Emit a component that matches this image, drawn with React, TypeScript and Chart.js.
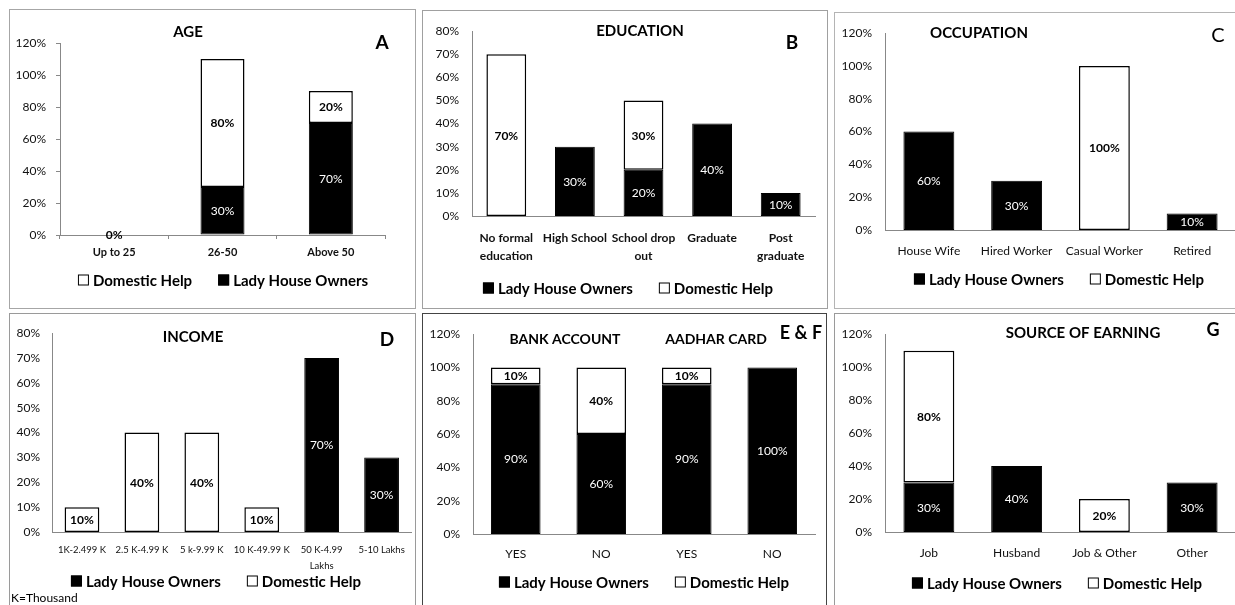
import React, { useEffect, useRef } from 'react';
import { Chart, registerables } from 'chart.js';

Chart.register(...registerables);

const FONT = 'Lato, "Open Sans", "Liberation Sans", sans-serif';

// ---------- Data ----------
// A – Age
const ageCategories = ['Up to 25', '26-50', 'Above 50'];
const ageLadyOwners = [null, 30, 70];
const ageDomesticHelp = [0, 80, 20];

// B – Education
const eduCategories = [['No formal', 'education'], 'High School', ['School drop', 'out'], 'Graduate', ['Post', 'graduate']];
const eduLadyOwners = [null, 30, 20, 40, 10];
const eduDomesticHelp = [70, null, 30, null, null];

// C – Occupation
const occCategories = ['House Wife', 'Hired Worker', 'Casual Worker', 'Retired'];
const occLadyOwners = [60, 30, null, 10];
const occDomesticHelp = [null, null, 100, null];

// D – Income
const incCategories = ['1K-2.499 K', '2.5 K-4.99 K', '5 k-9.99 K', '10 K-49.99 K', ['50 K-4.99', 'Lakhs'], '5-10 Lakhs'];
const incLadyOwners = [null, null, null, null, 70, 30];
const incDomesticHelp = [10, 40, 40, 10, null, null];

// E & F – Bank account / Aadhar card
const docCategories = ['YES', 'NO', 'YES', 'NO'];
const docLadyOwners = [90, 60, 90, 100];
const docDomesticHelp = [10, 40, 10, null];

// G – Source of earning
const srcCategories = ['Job', 'Husband', 'Job & Other', 'Other'];
const srcLadyOwners = [30, 40, null, 30];
const srcDomesticHelp = [80, null, 20, null];

const LHO = 'Lady House Owners';
const DH = 'Domestic Help';

type TitleDef = { text: string; x: number; y: number; size: number; bold: boolean };
type PanelDef = {
  key: string;
  box: { x: number; y: number; w: number; h: number };
  border: string;
  plot: { l: number; r: number; t: number; b: number };
  categories: any[];
  lho: (number | null)[];
  dh: (number | null)[];
  yMax: number;
  yStep: number;
  barFrac: number;
  ticks: boolean;
  xFont: { size: number; bold: boolean; lineHeight: number };
  xPad: number;
  yPad: number;
  titles: TitleDef[];
  legendOrder: ('lho' | 'dh')[];
  legend: { cx: number; cy: number };
  note?: { text: string; x: number; y: number };
};

const panels: PanelDef[] = [
  {
    key: 'A',
    box: { x: 9, y: 9, w: 407, h: 300 },
    border: '#a6a6a6',
    plot: { l: 60, r: 385, t: 43, b: 235 },
    categories: ageCategories,
    lho: ageLadyOwners,
    dh: ageDomesticHelp,
    yMax: 120,
    yStep: 20,
    barFrac: 0.406,
    ticks: true,
    xFont: { size: 11, bold: true, lineHeight: 1.2 },
    xPad: 7,
    yPad: 10,
    titles: [
      { text: 'AGE', x: 188, y: 32, size: 15, bold: true },
      { text: 'A', x: 382, y: 43, size: 19, bold: true },
    ],
    legendOrder: ['dh', 'lho'],
    legend: { cx: 223, cy: 280 },
  },
  {
    key: 'B',
    box: { x: 422, y: 10, w: 406, h: 299 },
    border: '#a0a0a0',
    plot: { l: 472, r: 815, t: 27, b: 216 },
    categories: eduCategories,
    lho: eduLadyOwners,
    dh: eduDomesticHelp,
    yMax: 80,
    yStep: 10,
    barFrac: 0.58,
    ticks: false,
    xFont: { size: 12, bold: true, lineHeight: 1.5 },
    xPad: 13,
    yPad: 13,
    titles: [
      { text: 'EDUCATION', x: 640, y: 31, size: 15, bold: true },
      { text: 'B', x: 792, y: 43, size: 19, bold: true },
    ],
    legendOrder: ['lho', 'dh'],
    legend: { cx: 628, cy: 288 },
  },
  {
    key: 'C',
    box: { x: 834, y: 12, w: 410, h: 297 },
    border: '#b4b4b4',
    plot: { l: 885, r: 1236, t: 28, b: 230 },
    categories: occCategories,
    lho: occLadyOwners,
    dh: occDomesticHelp,
    yMax: 120,
    yStep: 20,
    barFrac: 0.58,
    ticks: false,
    xFont: { size: 12, bold: false, lineHeight: 1.2 },
    xPad: 14,
    yPad: 13,
    titles: [
      { text: 'OCCUPATION', x: 979, y: 33, size: 15, bold: true },
      { text: 'C', x: 1218, y: 36, size: 20, bold: false },
    ],
    legendOrder: ['lho', 'dh'],
    legend: { cx: 1059, cy: 279 },
  },
  {
    key: 'D',
    box: { x: 9, y: 313, w: 407, h: 300 },
    border: '#9a9a9a',
    plot: { l: 52, r: 412, t: 327, b: 532 },
    categories: incCategories,
    lho: incLadyOwners,
    dh: incDomesticHelp,
    yMax: 80,
    yStep: 10,
    barFrac: 0.58,
    ticks: false,
    xFont: { size: 9.5, bold: false, lineHeight: 1.7 },
    xPad: 10,
    yPad: 12,
    titles: [
      { text: 'INCOME', x: 193, y: 337, size: 15, bold: true },
      { text: 'D', x: 387, y: 340, size: 19, bold: true },
    ],
    legendOrder: ['lho', 'dh'],
    legend: { cx: 216, cy: 581 },
    note: { text: 'K=Thousand', x: 11, y: 598 },
  },
  {
    key: 'EF',
    box: { x: 422, y: 313, w: 405, h: 300 },
    border: '#444444',
    plot: { l: 473, r: 815, t: 329, b: 534 },
    categories: docCategories,
    lho: docLadyOwners,
    dh: docDomesticHelp,
    yMax: 120,
    yStep: 20,
    barFrac: 0.58,
    ticks: false,
    xFont: { size: 12, bold: false, lineHeight: 1.2 },
    xPad: 13,
    yPad: 13,
    titles: [
      { text: 'BANK ACCOUNT', x: 565, y: 339, size: 14, bold: true },
      { text: 'AADHAR CARD', x: 716, y: 339, size: 14, bold: true },
      { text: 'E & F', x: 801, y: 333, size: 18, bold: true },
    ],
    legendOrder: ['lho', 'dh'],
    legend: { cx: 644, cy: 582 },
  },
  {
    key: 'G',
    box: { x: 834, y: 313, w: 410, h: 300 },
    border: '#9a9a9a',
    plot: { l: 885, r: 1236, t: 330, b: 532 },
    categories: srcCategories,
    lho: srcLadyOwners,
    dh: srcDomesticHelp,
    yMax: 120,
    yStep: 20,
    barFrac: 0.58,
    ticks: false,
    xFont: { size: 12, bold: false, lineHeight: 1.2 },
    xPad: 14,
    yPad: 13,
    titles: [
      { text: 'SOURCE OF EARNING', x: 1083, y: 333, size: 15, bold: true },
      { text: 'G', x: 1213, y: 330, size: 18, bold: true },
    ],
    legendOrder: ['lho', 'dh'],
    legend: { cx: 1057, cy: 583 },
  },
];

function Panel({ def }: { def: PanelDef }) {
  const ref = useRef<HTMLCanvasElement | null>(null);
  const ox = def.box.x + 1;
  const oy = def.box.y + 1;
  const cw = def.box.w - 2;
  const ch = def.box.h - 2;

  useEffect(() => {
    const canvas = ref.current;
    if (!canvas) return;
    const yW = def.plot.l - ox;
    const xH = 60;
    const padTop = def.plot.t - oy;
    const padRight = ox + cw - def.plot.r;
    const padBottom = Math.max(0, oy + ch - def.plot.b - xH);

    const decor = {
      id: 'decor' + def.key,
      afterDatasetsDraw(chart: any) {
        const ctx = chart.ctx;
        ctx.save();
        ctx.textAlign = 'center';
        ctx.textBaseline = 'middle';
        chart.data.datasets.forEach((ds: any, i: number) => {
          const meta = chart.getDatasetMeta(i);
          const isDark = ds.label === LHO;
          meta.data.forEach((bar: any, j: number) => {
            const v = ds.data[j];
            if (v === null || v === undefined) return;
            const p = bar.getProps(['x', 'y', 'base'], true);
            const cy = (p.y + p.base) / 2;
            ctx.font = (isDark ? '' : 'bold ') + '12px ' + FONT;
            ctx.fillStyle = isDark ? '#ffffff' : '#000000';
            ctx.fillText(v + '%', p.x, cy + 0.5);
          });
        });
        ctx.restore();
      },
      afterDraw(chart: any) {
        const ctx = chart.ctx;
        ctx.save();
        ctx.textBaseline = 'middle';
        ctx.fillStyle = '#000';
        def.titles.forEach((t) => {
          ctx.font = (t.bold ? 'bold ' : '') + t.size + 'px ' + FONT;
          ctx.textAlign = 'center';
          ctx.fillText(t.text, t.x - ox, t.y - oy);
        });
        // legend
        ctx.font = 'bold 15px ' + FONT;
        const box = 11;
        const gapBT = 4;
        const gapItems = 26;
        const items = def.legendOrder.map((k) => ({
          label: k === 'lho' ? LHO : DH,
          dark: k === 'lho',
        }));
        const widths = items.map((it) => box + gapBT + ctx.measureText(it.label).width);
        const total = widths.reduce((a, b) => a + b, 0) + gapItems * (items.length - 1);
        let x = def.legend.cx - ox - total / 2;
        const cy = def.legend.cy - oy;
        items.forEach((it, i) => {
          ctx.fillStyle = it.dark ? '#000' : '#fff';
          ctx.fillRect(x, cy - box / 2, box, box);
          ctx.strokeStyle = '#000';
          ctx.lineWidth = 1;
          ctx.strokeRect(x + 0.5, cy - box / 2 + 0.5, box - 1, box - 1);
          ctx.fillStyle = '#000';
          ctx.textAlign = 'left';
          ctx.fillText(it.label, x + box + gapBT, cy + 1);
          x += widths[i] + gapItems;
        });
        if (def.note) {
          ctx.font = '12px ' + FONT;
          ctx.textAlign = 'left';
          ctx.fillText(def.note.text, def.note.x - ox, def.note.y - oy);
        }
        ctx.restore();
      },
    };

    const chart = new Chart(canvas, {
      type: 'bar',
      data: {
        labels: def.categories,
        datasets: [
          {
            label: LHO,
            data: def.lho as any,
            backgroundColor: '#000000',
            borderColor: '#000000',
            borderWidth: 1,
            borderSkipped: false,
            categoryPercentage: 1,
            barPercentage: def.barFrac,
          },
          {
            label: DH,
            data: def.dh as any,
            backgroundColor: '#ffffff',
            borderColor: '#000000',
            borderWidth: 1.5,
            borderSkipped: false,
            categoryPercentage: 1,
            barPercentage: def.barFrac,
          },
        ],
      },
      options: {
        animation: false,
        responsive: false,
        maintainAspectRatio: false,
        devicePixelRatio: 1,
        layout: { padding: { left: 0, top: padTop, right: padRight, bottom: padBottom } },
        plugins: {
          legend: { display: false },
          title: { display: false },
          tooltip: { enabled: false },
        },
        scales: {
          x: {
            stacked: true,
            afterFit: (s: any) => {
              s.height = xH;
            },
            grid: {
              display: def.ticks,
              drawOnChartArea: false,
              drawTicks: def.ticks,
              tickLength: 4,
              color: '#888',
            },
            border: { display: true, color: '#888', width: 1 },
            ticks: {
              autoSkip: false,
              maxRotation: 0,
              minRotation: 0,
              padding: def.xPad,
              color: '#111',
              font: {
                family: FONT,
                size: def.xFont.size,
                weight: def.xFont.bold ? 'bold' : 'normal',
                lineHeight: def.xFont.lineHeight,
              },
            },
          },
          y: {
            stacked: true,
            min: 0,
            max: def.yMax,
            afterFit: (s: any) => {
              s.width = yW;
            },
            grid: {
              display: def.ticks,
              drawOnChartArea: false,
              drawTicks: def.ticks,
              tickLength: 4,
              color: '#888',
            },
            border: { display: true, color: '#888', width: 1 },
            ticks: {
              stepSize: def.yStep,
              padding: def.yPad,
              color: '#111',
              font: { family: FONT, size: 12 },
              callback: (v: any) => v + '%',
            },
          },
        },
      },
      plugins: [decor],
    } as any);
    return () => chart.destroy();
  }, []);

  return (
    <div
      style={{
        position: 'absolute',
        left: def.box.x,
        top: def.box.y,
        width: def.box.w,
        height: def.box.h,
        border: '1px solid ' + def.border,
        boxSizing: 'border-box',
        background: '#fff',
      }}
    >
      <canvas
        ref={ref}
        width={cw}
        height={ch}
        style={{ position: 'absolute', left: 0, top: 0, width: cw, height: ch, display: 'block' }}
      />
    </div>
  );
}

export default function App() {
  return (
    <div
      style={{
        position: 'absolute',
        left: 0,
        top: 0,
        width: 1235,
        height: 605,
        overflow: 'hidden',
        background: '#fff',
        fontFamily: FONT,
      }}
    >
      {panels.map((p) => (
        <Panel key={p.key} def={p} />
      ))}
    </div>
  );
}
